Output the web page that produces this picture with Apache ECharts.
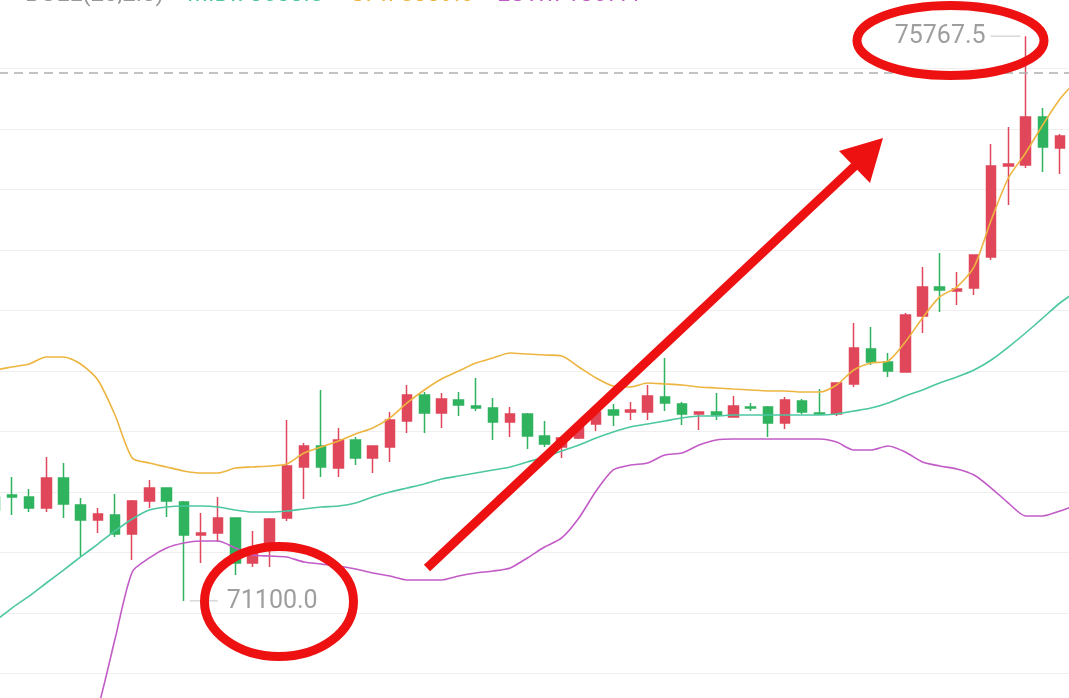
<!DOCTYPE html>
<html><head><meta charset="utf-8">
<script src="https://cdn.jsdelivr.net/npm/echarts@6/dist/echarts.min.js"></script>
<style>html,body{margin:0;padding:0;background:#fff;overflow:hidden;width:1069px;height:698px;position:relative}
#c{position:absolute;left:-31px;top:-53px;width:1117px;height:787px}</style>
</head><body><div id="c"></div>
<script>
const categories = ['00:00','00:15','00:30','00:45','01:00','01:15','01:30','01:45','02:00','02:15','02:30','02:45','03:00','03:15','03:30','03:45','04:00','04:15','04:30','04:45','05:00','05:15','05:30','05:45','06:00','06:15','06:30','06:45','07:00','07:15','07:30','07:45','08:00','08:15','08:30','08:45','09:00','09:15','09:30','09:45','10:00','10:15','10:30','10:45','11:00','11:15','11:30','11:45','12:00','12:15','12:30','12:45','13:00','13:15','13:30','13:45','14:00','14:15','14:30','14:45','15:00','15:15','15:30','15:45','16:00'];
const opens  = [71990,71959,71975,71959,71868,72116,71893,71769,71810,71653,71926,72033,71917,71645,71661,71785,71413,71521,71785,72207,72380,72198,72430,72281,72372,72587,72802,72653,72760,72711,72694,72579,72645,72463,72372,72446,72562,72678,72661,72661,72785,72727,72645,72661,72620,72702,72702,72570,72752,72653,72645,72893,73182,73074,72992,73455,73694,73661,73686,73942,74694,74702,75099,74843,74942];
const closes = [71950,71851,71959,71868,72116,71901,71769,71818,71653,71926,72033,71926,71645,71661,71785,71413,71537,71777,72215,72380,72207,72430,72281,72380,72595,72802,72653,72769,72719,72694,72579,72645,72463,72397,72446,72554,72661,72636,72678,72793,72736,72645,72661,72636,72711,72694,72570,72760,72661,72645,72901,73190,73074,73000,73463,73694,73669,73678,73959,74694,74711,75099,74851,74942,74900];
const lows   = [71900,71810,71810,71835,71835,71785,71471,71661,71628,71438,71868,71793,71100,71413,71587,71314,71380,71380,71760,71942,72124,72124,72223,72157,72248,72488,72488,72529,72628,72669,72430,72455,72355,72372,72281,72438,72504,72545,72595,72595,72669,72554,72512,72595,72620,72669,72455,72521,72645,72640,72628,72868,73050,72950,72985,73314,73488,73545,73628,73917,74372,74678,74645,74628,74850];
const highs  = [72050,72058,72124,72025,72289,72240,71950,71868,71983,71934,72099,72040,71926,71826,71959,71790,71678,71785,72595,72405,72843,72529,72455,72385,72661,72884,72826,72818,72826,72942,72777,72702,72653,72587,72455,72570,72702,72727,72744,72884,73107,72744,72665,72818,72793,72736,72711,72785,72769,72851,72905,73397,73364,73149,73479,73860,73975,73818,73965,74876,75017,75767.5,75174,74959,75000];
const bollUp  = [72992,73008,73033,73058,73116,73116,73058,72926,72636,72281,72240,72207,72174,72157,72157,72198,72207,72215,72231,72322,72372,72421,72479,72529,72612,72736,72843,72934,73000,73066,73107,73149,73140,73132,73124,73033,72942,72876,72868,72901,72893,72884,72868,72860,72851,72843,72835,72835,72826,72826,72884,73008,73066,73083,73240,73438,73612,73694,73860,74248,74595,74802,75033,75248,75405];
const bollMid = [70860,70934,71041,71140,71248,71355,71463,71570,71678,71777,71851,71876,71884,71884,71876,71851,71835,71835,71843,71860,71876,71884,71909,71959,72000,72033,72066,72107,72132,72157,72182,72207,72248,72289,72339,72388,72446,72496,72537,72562,72587,72612,72628,72628,72636,72636,72636,72636,72636,72636,72645,72669,72694,72736,72793,72843,72901,72950,73008,73091,73198,73314,73438,73562,73661];
const bollLow = [68728,68860,69049,69222,69380,69594,69868,70214,70785,71339,71455,71537,71579,71595,71595,71537,71479,71471,71463,71421,71405,71388,71364,71331,71306,71273,71273,71273,71306,71331,71347,71372,71455,71545,71620,71785,72008,72182,72223,72240,72306,72322,72388,72430,72438,72438,72438,72438,72438,72438,72413,72347,72347,72380,72331,72248,72215,72190,72140,72033,71909,71802,71802,71843,71893];
const priceLine = 75463;
const legendTexts = ['BOLL(20,2.0)', 'MID:73603.5', 'UP:75339.6', 'LOW:71867.4'];

const RED = '#E0475A', GREEN = '#2FB35F';
const C_UP = '#EDB540', C_MID = '#4CC7A2', C_LOW = '#C25BC7';
const OX = 31, OY = 53;
// split line colours per tick (70000 … 76500); the 76000 line sits under the legend and is hidden
const GRID_C = '#efefef', NONE = 'rgba(0,0,0,0)';
const splitColors = [GRID_C, GRID_C, GRID_C, GRID_C, GRID_C, GRID_C, GRID_C, GRID_C, GRID_C, GRID_C, GRID_C, GRID_C, NONE, NONE];

const chart = echarts.init(document.getElementById('c'), null, {renderer: 'canvas'});
const candleData = opens.map((o, i) => [o, closes[i], lows[i], highs[i]]);
const lineSeries = (name, data, color) => ({
  name, type: 'line', data, showSymbol: false, smooth: 0.25, z: 3,
  lineStyle: {color, width: 1.6}, itemStyle: {color}
});
chart.setOption({
  animation: false,
  backgroundColor: '#ffffff',
  grid: {left: 0, right: 0.3, top: 0.5, bottom: 0, containLabel: false},
  xAxis: {type: 'category', data: categories, boundaryGap: true,
    axisLine: {show: false}, axisTick: {show: false}, axisLabel: {show: false}, splitLine: {show: false}},
  yAxis: {type: 'value', min: 70000, max: 76500, interval: 500,
    axisLine: {show: false}, axisTick: {show: false}, axisLabel: {show: false},
    splitLine: {show: true, lineStyle: {color: splitColors, width: 1}}},
  series: [
    {type: 'candlestick', data: candleData, barWidth: 10, z: 2,
     itemStyle: {color: RED, color0: GREEN, borderColor: RED, borderColor0: GREEN, borderWidth: 1.5},
     markLine: {silent: true, symbol: ['none', 'none'], label: {show: false},
       lineStyle: {color: '#b0b0b0', type: [9, 6], width: 1.5}, data: [{yAxis: priceLine}]}},
    lineSeries('UP', bollUp, C_UP),
    lineSeries('MID', bollMid, C_MID),
    lineSeries('LOW', bollLow, C_LOW)
  ]
});

let maxI = 0, minI = 0;
highs.forEach((h, i) => { if (h > highs[maxI]) maxI = i; });
lows.forEach((l, i) => { if (l < lows[minI]) minI = i; });
const pMax = chart.convertToPixel({seriesIndex: 0}, [maxI, highs[maxI]]);
const pMin = chart.convertToPixel({seriesIndex: 0}, [minI, lows[minI]]);
const RED_ANN = '#EE1111';
const font = '25px Roboto';
const legendY = OY + 7;
const graphics = [
  {type: 'line', z: 50, shape: {x1: pMax[0] - 35, y1: pMax[1], x2: pMax[0] - 5, y2: pMax[1]}, style: {stroke: '#c4c4c4', lineWidth: 1}},
  {type: 'text', z: 50, x: pMax[0] - 40, y: pMax[1] + 1, style: {text: highs[maxI].toFixed(1), font, fill: '#9e9e9e', align: 'right', verticalAlign: 'middle'}},
  {type: 'line', z: 50, shape: {x1: pMin[0] + 6, y1: pMin[1], x2: pMin[0] + 34, y2: pMin[1]}, style: {stroke: '#c4c4c4', lineWidth: 1}},
  {type: 'text', z: 50, x: pMin[0] + 43, y: pMin[1] + 1, style: {text: lows[minI].toFixed(1), font, fill: '#9e9e9e', align: 'left', verticalAlign: 'middle'}},
  {type: 'text', z: 50, x: OX + 25, y: legendY, style: {text: legendTexts[0], font: '24px Roboto', fill: '#999999', verticalAlign: 'bottom'}},
  {type: 'text', z: 50, x: OX + 187, y: legendY, style: {text: legendTexts[1], font: '24px Roboto', fill: C_MID, verticalAlign: 'bottom'}},
  {type: 'text', z: 50, x: OX + 350, y: legendY, style: {text: legendTexts[2], font: '24px Roboto', fill: C_UP, verticalAlign: 'bottom'}},
  {type: 'text', z: 50, x: OX + 497, y: legendY, style: {text: legendTexts[3], font: '24px Roboto', fill: C_LOW, verticalAlign: 'bottom'}},
  {type: 'ellipse', z: 100, shape: {cx: OX + 950.5, cy: OY + 40.5, rx: 93.5, ry: 35}, style: {fill: 'none', stroke: RED_ANN, lineWidth: 9}},
  {type: 'ellipse', z: 100, shape: {cx: OX + 279, cy: OY + 601.5, rx: 74.5, ry: 55}, style: {fill: 'none', stroke: RED_ANN, lineWidth: 9}},
  {type: 'line', z: 100, shape: {x1: OX + 427, y1: OY + 568, x2: OX + 858, y2: OY + 163}, style: {stroke: RED_ANN, lineWidth: 9, lineCap: 'butt'}},
  {type: 'polygon', z: 100, shape: {points: [[OX + 883, OY + 138], [OX + 839, OY + 151], [OX + 870, OY + 183]]}, style: {fill: RED_ANN}}
];
chart.setOption({graphic: {elements: graphics}});
</script>
</body></html>
